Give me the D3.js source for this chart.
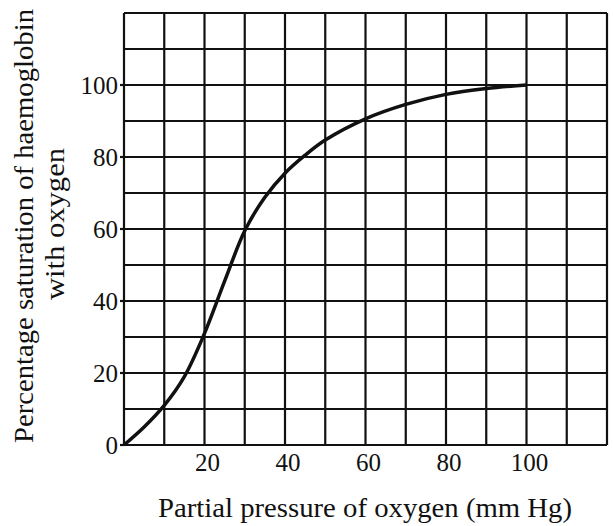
<!DOCTYPE html>
<html lang="en">
<head>
    <meta charset="UTF-8">
    <script src="https://cdn.jsdelivr.net/npm/d3@7"></script>
    <style>
        body { margin: 0; background: #fff; }
    </style>
</head>
<body>
    <svg id="chart" width="613" height="526"></svg>
    <script>
        // curve
        let pressure = [0, 5, 10, 15, 20, 25, 30, 35, 40, 45, 50, 60, 70, 80, 90, 100];
        let saturation = [0, 5, 11, 19, 31, 45.5, 59.5, 68.8, 75.5, 80.5, 84.7, 90.6, 94.6, 97.4, 99, 100];
        let xTickLabels = [20, 40, 60, 80, 100];
        let yTickLabels = [0, 20, 40, 60, 80, 100];

        let serif = "'Liberation Serif', 'Times New Roman', serif";
        let svg = d3.select("#chart");
        let plotLeft = 124, plotRight = 607, plotTop = 13, plotBottom = 445;

        let x = d3.scaleLinear().domain([0, 120]).range([plotLeft, plotRight]);
        let y = d3.scaleLinear().domain([0, 120]).range([plotBottom, plotTop]);

        let grid = svg.append("g").attr("stroke", "#111").attr("stroke-width", 2.2);

        grid.selectAll(".v")
            .data(d3.range(0, 121, 10))
            .join("line")
            .attr("class", "v")
            .attr("x1", d => x(d)).attr("x2", d => x(d))
            .attr("y1", plotTop).attr("y2", plotBottom);

        grid.selectAll(".h")
            .data(d3.range(0, 121, 10))
            .join("line")
            .attr("class", "h")
            .attr("x1", plotLeft).attr("x2", plotRight)
            .attr("y1", d => y(d)).attr("y2", d => y(d));

        // small ticks left of the frame
        grid.selectAll(".tk")
            .data(yTickLabels)
            .join("line")
            .attr("class", "tk")
            .attr("x1", plotLeft - 4).attr("x2", plotLeft)
            .attr("y1", d => y(d)).attr("y2", d => y(d));

        svg.append("g").selectAll("text")
            .data(yTickLabels)
            .join("text")
            .attr("x", plotLeft - 6)
            .attr("y", d => y(d))
            .attr("dy", "0.35em")
            .attr("text-anchor", "end")
            .attr("font-family", serif)
            .attr("font-size", 25)
            .attr("fill", "#111")
            .text(d => d);

        svg.append("g").selectAll("text")
            .data(xTickLabels)
            .join("text")
            .attr("x", d => x(d) + 3)
            .attr("y", plotBottom + 26)
            .attr("text-anchor", "middle")
            .attr("font-family", serif)
            .attr("font-size", 25)
            .attr("fill", "#111")
            .text(d => d);

        let points = pressure.map((p, i) => [p, saturation[i]]);
        let line = d3.line()
            .x(d => x(d[0]))
            .y(d => y(d[1]))
            .curve(d3.curveCatmullRom.alpha(0.5));

        svg.append("path")
            .datum(points)
            .attr("fill", "none")
            .attr("stroke", "#111")
            .attr("stroke-width", 3.5)
            .attr("d", line);

        svg.append("text")
            .attr("x", 365)
            .attr("y", 517)
            .attr("text-anchor", "middle")
            .attr("font-family", serif)
            .attr("font-size", 27)
            .attr("textLength", 414)
            .attr("lengthAdjust", "spacingAndGlyphs")
            .attr("fill", "#111")
            .text("Partial pressure of oxygen (mm Hg)");

        svg.append("text")
            .attr("transform", "translate(33,226) rotate(-90)")
            .attr("text-anchor", "middle")
            .attr("font-family", serif)
            .attr("font-size", 28)
            .attr("textLength", 434)
            .attr("lengthAdjust", "spacingAndGlyphs")
            .attr("fill", "#111")
            .text("Percentage saturation of haemoglobin");

        svg.append("text")
            .attr("transform", "translate(64,224) rotate(-90)")
            .attr("text-anchor", "middle")
            .attr("font-family", serif)
            .attr("font-size", 28)
            .attr("textLength", 152)
            .attr("lengthAdjust", "spacingAndGlyphs")
            .attr("fill", "#111")
            .text("with oxygen");
    </script>
</body>
</html>
